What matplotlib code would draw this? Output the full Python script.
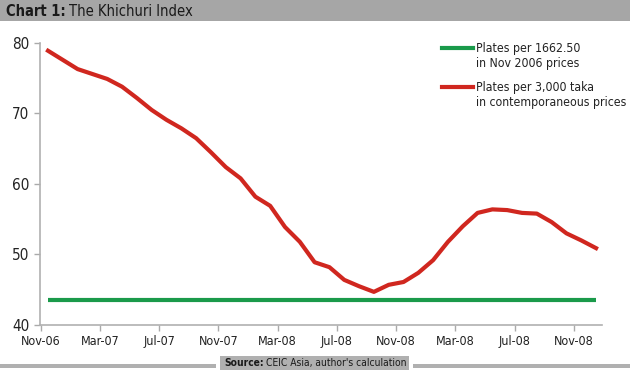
import matplotlib.pyplot as plt
from matplotlib.patches import Rectangle

# monthly series, Nov-06 .. Dec-09 (38 points)
plates_contemp = [
    78.9, 77.6, 76.3, 75.6, 74.9, 73.8, 72.2, 70.5, 69.1, 67.9,
    66.5, 64.5, 62.4, 60.8, 58.2, 56.9, 53.9, 51.8, 48.9, 48.2,
    46.4, 45.5, 44.7, 45.7, 46.1, 47.4, 49.2, 51.8, 54.0, 55.9,
    56.4, 56.3, 55.9, 55.8, 54.6, 53.0, 52.0, 50.9,
]
plates_const = [43.5] * len(plates_contemp)
tick_labels = ["Nov-06", "Mar-07", "Jul-07", "Nov-07", "Mar-08",
               "Jul-08", "Nov-08", "Mar-08", "Jul-08", "Nov-08"]
y_ticks = [40, 50, 60, 70, 80]

legend_const = "Plates per 1662.50\nin Nov 2006 prices"
legend_contemp = "Plates per 3,000 taka\nin contemporaneous prices"

plt.rcParams["font.family"] = ["DejaVu Sans Condensed", "DejaVu Sans"]
plt.rcParams["font.stretch"] = "condensed"

W, H = 630, 370
fig = plt.figure(figsize=(W / 100, H / 100), dpi=100)


def follow(first, text, gap, **kw):
    # place a regular-weight text right after a bold lead-in
    fig.canvas.draw()
    bb = first.get_window_extent()
    return fig.text((bb.x1 + gap) / W, first.get_position()[1], text, **kw)


# title bar
fig.patches.append(Rectangle((0, 1 - 21 / H), 1, 21 / H, transform=fig.transFigure,
                             facecolor="#a6a6a6", edgecolor="none", zorder=0))
t1 = fig.text(6 / W, 1 - 11 / H, "Chart 1:", fontsize=10.5, fontweight="bold",
              color="#1a1a1a", va="center", ha="left")
follow(t1, "The Khichuri Index", 3, fontsize=10.5, color="#1a1a1a",
       va="center", ha="left")

ax = fig.add_axes([40 / W, 1 - 325 / H, (602 - 40) / W, (325 - 43) / H])
x = list(range(len(plates_contemp)))
ax.plot(x, plates_const, color="#1a9a4a", linewidth=3, solid_capstyle="butt")
ax.plot(x, plates_contemp, color="#d0271f", linewidth=3, solid_joinstyle="round")

ax.set_xlim(-0.54, 37.4)
ax.set_ylim(40, 80)
ax.set_xticks([-0.5 + 4 * k for k in range(len(tick_labels))])
ax.set_xticklabels(tick_labels)
ax.set_yticks(y_ticks)
ax.tick_params(axis="both", colors="#aaaaaa", labelcolor="#222222", labelsize=9,
               length=4, width=1)
ax.tick_params(axis="y", labelsize=11)
for side in ("top", "right"):
    ax.spines[side].set_visible(False)
for side in ("left", "bottom"):
    ax.spines[side].set_color("#b0b0b0")
    ax.spines[side].set_linewidth(1.2)

# legend drawn by hand to match layout
fig.lines.append(plt.Line2D([442 / W, 473 / W], [1 - 48 / H] * 2, transform=fig.transFigure,
                            color="#1a9a4a", linewidth=3))
fig.text(476 / W, 1 - 56 / H, legend_const, fontsize=8.8, color="#222222",
         va="center", ha="left", linespacing=1.15)
fig.lines.append(plt.Line2D([442 / W, 473 / W], [1 - 87 / H] * 2, transform=fig.transFigure,
                            color="#d0271f", linewidth=3))
fig.text(476 / W, 1 - 95 / H, legend_contemp, fontsize=8.8, color="#222222",
         va="center", ha="left", linespacing=1.15)

# source footer
fig.patches.append(Rectangle((0, 2 / H), 216 / W, 4 / H, transform=fig.transFigure,
                             facecolor="#b0b0b0", edgecolor="none"))
fig.patches.append(Rectangle((413 / W, 2 / H), 1, 4 / H, transform=fig.transFigure,
                             facecolor="#b0b0b0", edgecolor="none"))
fig.patches.append(Rectangle((220 / W, 0), 189 / W, 14 / H, transform=fig.transFigure,
                             facecolor="#b0b0b0", edgecolor="none"))
s1 = fig.text(224 / W, 7 / H, "Source:", fontsize=7.4, fontweight="bold",
              color="#1a1a1a", va="center", ha="left")
follow(s1, "CEIC Asia, author's calculation", 2, fontsize=7.4,
       color="#1a1a1a", va="center", ha="left")

fig.savefig("out.png", dpi=100)
